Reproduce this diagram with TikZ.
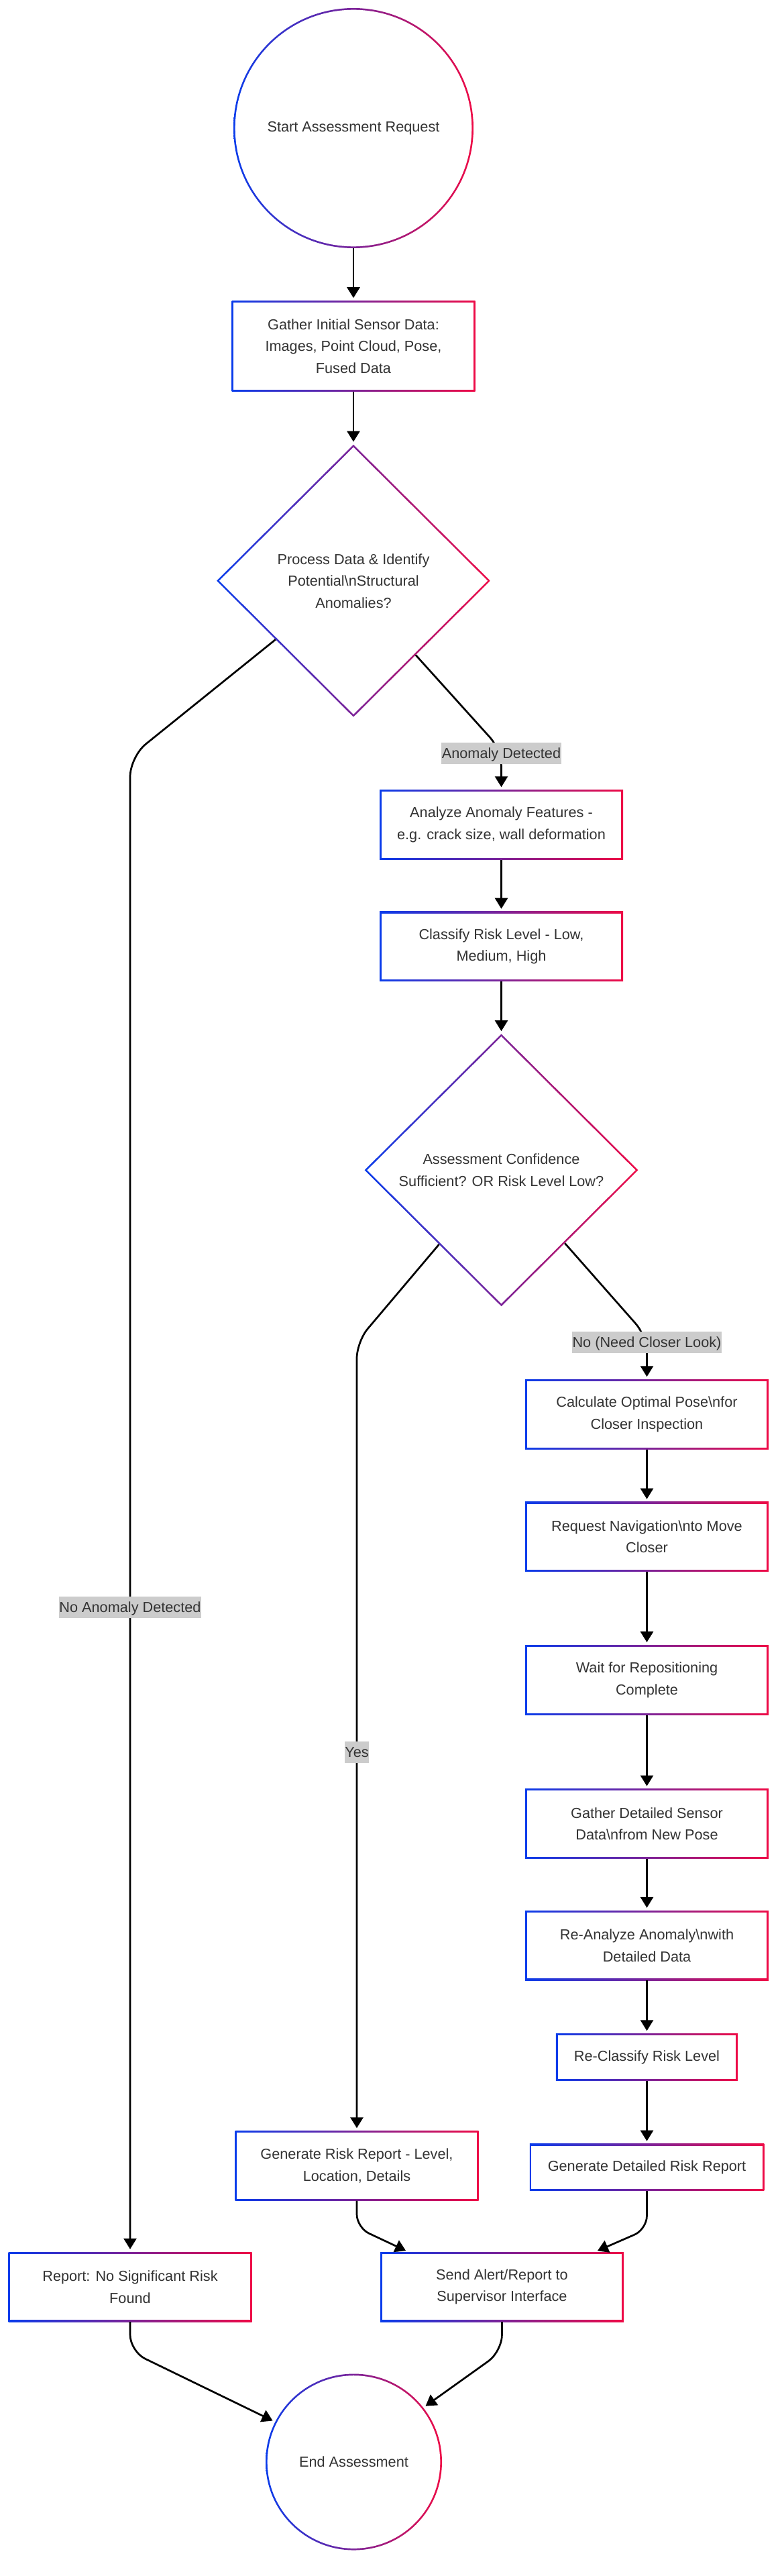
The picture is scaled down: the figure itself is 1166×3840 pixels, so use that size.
\documentclass[tikz,border=0pt]{standalone}
\usepackage{fontspec}
\setmainfont{Liberation Sans}
\usepackage{xcolor}
\usepackage{tikz}
\usetikzlibrary{positioning,shapes.geometric,arrows.meta}
\definecolor{gradblue}{HTML}{0A3CEB}
\definecolor{gradred}{HTML}{EE0A46}
\definecolor{labelgray}{HTML}{CCCCCC}
\definecolor{textgray}{HTML}{333333}

\begin{document}
\begin{tikzpicture}[
        x=1pt, y=1pt,
        every node/.style={font=\fontsize{21.7}{32.5}\selectfont, text=textgray},
        procbox/.style={rectangle, minimum width=363pt, minimum height=104pt, align=center, inner sep=0pt,
            path picture={
                \shade[left color=gradblue, right color=gradred] (path picture bounding box.south west) rectangle (path picture bounding box.north east);
                \fill[white] ([shift={(2.7pt,2.7pt)}]path picture bounding box.south west) rectangle ([shift={(-2.7pt,-2.7pt)}]path picture bounding box.north east);
            }},
        shortbox/.style={procbox, minimum width=0pt, inner xsep=27pt, minimum height=70pt},
        decision/.style={diamond, minimum width=408pt, minimum height=406pt, align=center, inner sep=0pt,
            path picture={
                \shade[left color=gradblue, right color=gradred] (path picture bounding box.south west) rectangle (path picture bounding box.north east);
                \fill[white] ([xshift=3.8pt]path picture bounding box.west) -- ([yshift=-3.8pt]path picture bounding box.north) -- ([xshift=-3.8pt]path picture bounding box.east) -- ([yshift=3.8pt]path picture bounding box.south) -- cycle;
            }},
        terminal/.style={circle, minimum size=#1, inner sep=0pt,
            path picture={
                \shade[left color=gradblue, right color=gradred] (path picture bounding box.south west) rectangle (path picture bounding box.north east);
                \fill[white] (path picture bounding box.center) circle[radius=0.5*#1-2.7pt];
            }},
        arrowline/.style={-{Triangle[length=16pt, width=19pt]}, line width=2.7pt, shorten >=4pt, rounded corners=25pt},
        edgelabel/.style={fill=labelgray, sharp corners, inner xsep=0.5pt, inner ysep=4pt, text height=19.5pt, text depth=4.5pt}
    ]
        \useasboundingbox (0,0) rectangle (1166,-3840);

        % Start and first check
        \node[terminal=358pt] (start) at (527,-191) {Start Assessment Request};
        \node[procbox, minimum height=135pt, below=78pt of start] (gather) {Gather Initial Sensor Data:\\Images, Point Cloud, Pose,\\Fused Data};
        \node[decision, below=79pt of gather] (anomalycheck) {Process Data \& Identify\\Potential\textbackslash nStructural\\Anomalies?};

        % Anomaly branch
        \node[procbox] (analyze) at (747.5,-1229.5) {Analyze Anomaly Features -\\e.g. crack size, wall deformation};
        \node[procbox, below=77pt of analyze] (classify) {Classify Risk Level - Low,\\Medium, High};
        \node[decision, below=78pt of classify] (confcheck) {Assessment Confidence\\Sufficient? OR Risk Level Low?};

        % Closer look loop
        \node[procbox] (calcpose) at (964.5,-2108.5) {Calculate Optimal Pose\textbackslash nfor\\Closer Inspection};
        \node[procbox, below=78pt of calcpose] (navreq) {Request Navigation\textbackslash nto Move\\Closer};
        \node[procbox, below=109pt of navreq] (waitpos) {Wait for Repositioning\\Complete};
        \node[procbox, below=110pt of waitpos] (gatherdet) {Gather Detailed Sensor\\Data\textbackslash nfrom New Pose};
        \node[procbox, below=77pt of gatherdet] (reanalyze) {Re-Analyze Anomaly\textbackslash nwith\\Detailed Data};
        \node[shortbox, below=79pt of reanalyze] (reclassify) {Re-Classify Risk Level};
        \node[shortbox, below=94pt of reclassify] (detreport) {Generate Detailed Risk Report};

        % Reports and end
        \node[procbox] (riskreport) at (532,-3228.5) {Generate Risk Report - Level,\\Location, Details};
        \node[procbox] (noriskreport) at (194,-3409) {Report: No Significant Risk\\Found};
        \node[procbox] (sendalert) at (748.5,-3409) {Send Alert/Report to\\Supervisor Interface};
        \node[terminal=263pt] (finish) at (527.5,-3670) {End Assessment};

        % Bend points
        \coordinate (anomalyknee) at (747.5,-1118);
        \coordinate (noanomalyknee) at (194,-1128);
        \coordinate (yesknee) at (532,-2000);
        \coordinate (closerknee) at (964.5,-1992);

        % Main line
        \draw[arrowline] (start) -- (gather);
        \draw[arrowline] (gather) -- (anomalycheck);
        \draw[arrowline] (anomalycheck.-50) -- (anomalyknee) -- node[edgelabel, pos=0.08] {Anomaly Detected} (analyze.north);
        \draw[arrowline, rounded corners=30pt] (anomalycheck.217) -- (noanomalyknee) -- node[edgelabel, pos=0.569] {No Anomaly Detected} (noriskreport.north);
        \draw[arrowline] (analyze) -- (classify);
        \draw[arrowline] (classify) -- (confcheck);

        % Confidence decision
        \draw[arrowline] (confcheck.230) -- (yesknee) -- node[edgelabel, pos=0.52] {Yes} (riskreport.north);
        \draw[arrowline] (confcheck.-49) -- (closerknee) -- node[edgelabel, pos=0.14] {No (Need Closer Look)} (calcpose.north);

        % Closer look steps
        \draw[arrowline] (calcpose) -- (navreq);
        \draw[arrowline] (navreq) -- (waitpos);
        \draw[arrowline] (waitpos) -- (gatherdet);
        \draw[arrowline] (gatherdet) -- (reanalyze);
        \draw[arrowline] (reanalyze) -- (reclassify);
        \draw[arrowline] (reclassify) -- (detreport);

        % Merging into alert and end
        \draw[arrowline, rounded corners=20pt] (riskreport.south) -- ++(0,-40) -- ([xshift=42pt]sendalert.north west);
        \draw[arrowline, rounded corners=20pt] (detreport.south) -- ++(0,-57) -- ([xshift=-43pt]sendalert.north east);
        \draw[arrowline] (noriskreport.south) -- ++(0,-44) -- (finish.153);
        \draw[arrowline] (sendalert.south) -- ++(0,-44) -- (finish.38);

    \end{tikzpicture}
\end{document}
